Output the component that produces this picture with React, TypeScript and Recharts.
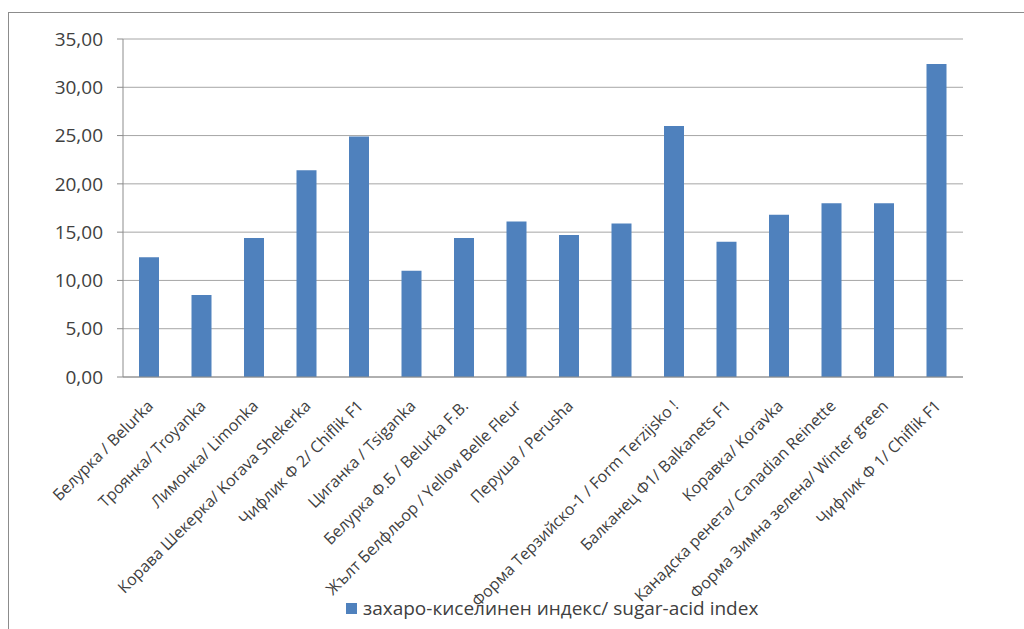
import { BarChart, Bar, XAxis, YAxis, CartesianGrid, Legend } from "recharts";

// Apple cultivars: Bulgarian name / English name
const varieties = [
  "Белурка / Belurka",
  "Троянка/ Troyanka",
  "Лимонка/ Limonka",
  "Корава Шекерка/ Korava Shekerka",
  "Чифлик Ф 2/ Chiflik F1",
  "Циганка / Tsiganka",
  "Белурка Ф.Б / Belurka F.B.",
  "Жълт Белфльор / Yellow  Belle Fleur",
  "Перуша / Perusha",
  "Форма Терзийско-1 / Form Terzijsko !",
  "Балканец Ф1/ Balkanets F1",
  "Коравка/ Koravka",
  "Канадска ренета/ Canadian Reinette",
  "Форма Зимна зелена/ Winter green",
  "Чифлик Ф 1/ Chiflik F1",
];

// one bar per label above, plus the extra category that Excel left unlabelled
const categories = [
  varieties[0],
  varieties[1],
  varieties[2],
  varieties[3],
  varieties[4],
  varieties[5],
  varieties[6],
  varieties[7],
  varieties[8],
  "",
  varieties[9],
  varieties[10],
  varieties[11],
  varieties[12],
  varieties[13],
  varieties[14],
];

const sugarAcidIndex = [
  12.4, 8.5, 14.4, 21.4, 24.9, 11.0, 14.4, 16.1, 14.7, 15.9, 26.0, 14.0, 16.8, 18.0, 18.0, 32.4,
];

const yTicks = [0, 5, 10, 15, 20, 25, 30, 35];

const seriesName = "захаро-киселинен индекс/ sugar-acid index";

const data = categories.map((name, i) => ({ name, value: sugarAcidIndex[i] }));

const FONT = "'Open Sans', sans-serif";
const TEXT = "#404040";
const BLUE = "#4f81bd";

function XTick({ x, y, payload }: { x: number; y: number; payload: { value: string } }) {
  return (
    <g transform={`translate(${x + 5},${y + 22})`}>
      <text textAnchor="end" transform="rotate(-45)" fontSize={16} fontFamily={FONT} fill={TEXT}>
        {payload.value}
      </text>
    </g>
  );
}

function LegendBox() {
  return (
    <div
      style={{
        display: "flex",
        alignItems: "center",
        height: 26,
        paddingLeft: 337,
        fontFamily: FONT,
        fontSize: 19,
        color: TEXT,
      }}
    >
      <span style={{ width: 11, height: 11, background: BLUE, marginRight: 6, display: "inline-block" }} />
      <span>{seriesName}</span>
    </div>
  );
}

export default function App() {
  return (
    <div
      style={{
        position: "absolute",
        left: 8,
        top: 12,
        width: 1016,
        height: 617,
        borderTop: "1px solid #8c8c8c",
        borderLeft: "1px solid #8c8c8c",
        background: "#fff",
      }}
    >
      <BarChart
        width={1015}
        height={616}
        data={data}
        margin={{ top: 26, right: 61, left: 0, bottom: 8 }}
        barCategoryGap={0}
      >
        <CartesianGrid vertical={false} stroke="#a6a6a6" />
        <XAxis
          dataKey="name"
          interval={0}
          height={218}
          tickLine={false}
          axisLine={{ stroke: "#8c8c8c" }}
          tick={XTick}
        />
        <YAxis
          width={114}
          domain={[0, 35]}
          ticks={yTicks}
          tickFormatter={(v: number) => v.toFixed(2).replace(".", ",")}
          tickSize={6}
          tickMargin={14}
          axisLine={{ stroke: "#8c8c8c" }}
          tickLine={{ stroke: "#8c8c8c" }}
          tick={{ fontSize: 19, fontFamily: FONT, fill: TEXT }}
        />
        <Legend verticalAlign="bottom" content={LegendBox} />
        <Bar dataKey="value" name={seriesName} fill={BLUE} barSize={20} isAnimationActive={false} />
      </BarChart>
    </div>
  );
}
